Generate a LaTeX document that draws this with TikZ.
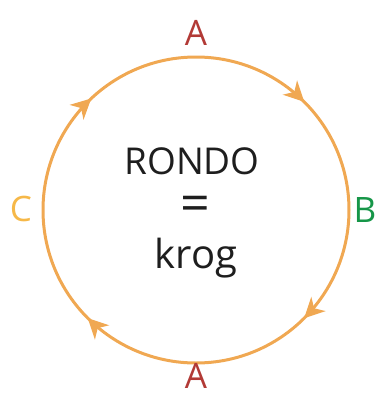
\documentclass[tikz,border=0pt]{standalone}
\usepackage{fontspec}
\setmainfont{Open Sans}
\usetikzlibrary{arrows.meta,decorations.markings}
\definecolor{rondoorange}{RGB}{240,168,82}
\definecolor{partA}{RGB}{178,58,54}
\definecolor{partB}{RGB}{22,150,72}
\definecolor{partC}{RGB}{246,184,72}
\definecolor{inktext}{RGB}{30,30,30}
\tikzset{
    partlabel/.style={font=\fontsize{17.5}{21}\selectfont},
    midtext/.style={font=\fontsize{18.5}{22}\selectfont,text=inktext}
}
\newcommand{\flowhead}{\arrow[rondoorange]{Stealth[length=10pt,width=10pt,inset=3pt]}}
\begin{document}
\begin{tikzpicture}[x=0.5pt,y=-0.5pt]
    \useasboundingbox (0,0) rectangle (379,397);
    \coordinate (mid) at (196,210);
    \draw[rondoorange,line width=1.5pt,
        postaction={decorate},
        decoration={markings,
            mark=at position 0.125 with {\flowhead},
            mark=at position 0.375 with {\flowhead},
            mark=at position 0.625 with {\flowhead},
            mark=at position 0.880 with {\flowhead}}]
        (mid) ++(90:76.5pt) arc[start angle=90,end angle=-270,radius=76.5pt];
    \node[partlabel,text=partA] (atop) at (196,33) {A};
    \node[partlabel,text=partB] (bright) at (365,210) {B};
    \node[partlabel,text=partC] (cleft) at (21,209) {C};
    \node[partlabel,text=partA,anchor=base,inner sep=0pt] (abottom) at (196,388) {A};
    \node[midtext] (rondo) at (192,161) {RONDO};
    \node[midtext,font=\fontsize{26}{26}\selectfont] (equals) at (195,209) {=};
    \node[midtext,font=\fontsize{20}{24}\selectfont] (krog) at (196,258) {krog};
\end{tikzpicture}
\end{document}
